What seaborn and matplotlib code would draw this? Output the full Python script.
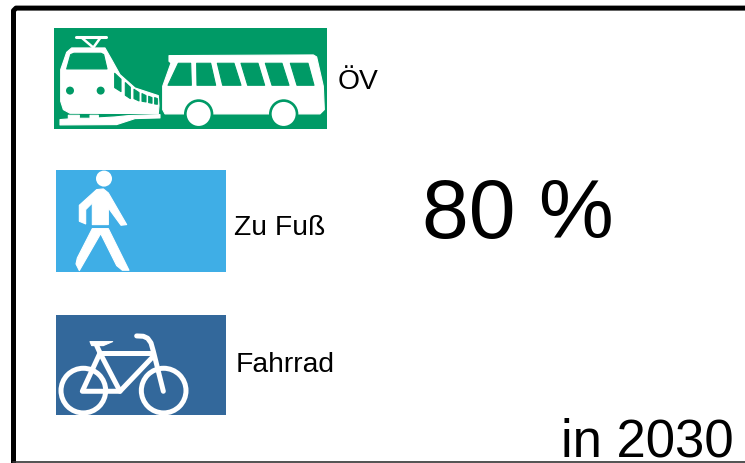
import matplotlib
matplotlib.use("Agg")
import matplotlib.pyplot as plt
import seaborn as sns
from matplotlib.patches import Circle, Polygon, Rectangle

sns.set_theme(style="white")
plt.rcParams["font.family"] = ["Liberation Sans", "DejaVu Sans"]

modes = ["ÖV", "Zu Fuß", "Fahrrad"]
share = 80
year = 2030

GREEN = "#009A66"
BLUE = "#3FAEE6"
DARK_BLUE = "#33689B"

fig = plt.figure(figsize=(7.45, 4.64), dpi=100)
ax = fig.add_axes([0, 0, 1, 1])
ax.set_xlim(0, 745)
# half a pixel down, rectangles came out one row too high
ax.set_ylim(463.4, -0.6)
ax.axis("off")


# the crops were 3x, so icon shapes are noted in crop pixels and scaled here
def px(points, ox, oy):
    return [(ox + x / 3, oy + y / 3) for x, y in points]


def poly(points, ox, oy, color="white"):
    ax.add_patch(Polygon(px(points, ox, oy), closed=True, fc=color, ec=color, lw=0.8, joinstyle="round"))


def circ(x, y, r, ox, oy, color="white"):
    ax.add_patch(Circle((ox + x / 3, oy + y / 3), r / 3, fc=color, ec="none"))


def stroke(points, ox, oy, lw=3.6):
    xs, ys = zip(*px(points, ox, oy))
    ax.plot(xs, ys, color="white", lw=lw, solid_capstyle="round", solid_joinstyle="round")


# frame
ax.plot([13.5, 13.5, 16, 745], [464, 11, 8.5, 8.5], color="black", lw=3.6, solid_joinstyle="round")
ax.plot([13, 745], [462, 462], color="#333333", lw=1.2)

# train and bus sign
ax.add_patch(Rectangle((54, 28), 273, 101, fc=GREEN, ec="none"))
ox, oy = 45, 20
stroke([(92, 52), (184, 52)], ox, oy, 2.2)
stroke([(112, 56), (145, 84), (165, 56)], ox, oy, 1.8)
poly([(47, 245), (47, 150), (65, 98), (80, 85), (180, 85), (200, 120), (225, 165), (270, 205),
      (340, 228), (342, 258), (340, 282), (75, 281), (55, 270)], ox, oy)
poly([(65, 148), (77, 105), (87, 101), (168, 101), (176, 105), (186, 148)], ox, oy, GREEN)
for win in [[(209, 161), (228, 179), (228, 216), (209, 204)],
            [(241, 189), (256, 203), (256, 237), (241, 227)],
            [(267, 209), (282, 219), (282, 244), (267, 237)],
            [(291, 222), (303, 228), (303, 247), (291, 245)],
            [(311, 230), (321, 234), (321, 251), (311, 249)],
            [(329, 234), (337, 237), (337, 254), (329, 253)]]:
    poly(win, ox, oy, GREEN)
circ(75, 213, 12, ox, oy, GREEN)
circ(167, 213, 12, ox, oy, GREEN)
poly([(45, 300), (70, 298), (70, 287), (103, 287), (103, 296), (135, 296), (135, 287), (160, 287),
      (160, 295), (210, 292), (250, 288), (345, 285), (345, 295), (270, 297), (215, 315), (45, 316)], ox, oy)
poly([(372, 108), (805, 106), (815, 112), (835, 200), (838, 270), (825, 283), (360, 283), (353, 270),
      (353, 200), (378, 130), (372, 125)], ox, oy)
for win in [[(400, 131), (437, 131), (439, 197), (369, 197)],
            [(455, 131), (497, 131), (512, 197), (456, 197)],
            [(517, 131), (567, 131), (588, 197), (533, 197)],
            [(588, 131), (639, 131), (659, 197), (608, 197)],
            [(661, 131), (711, 131), (732, 197), (681, 197)],
            [(736, 131), (789, 131), (807, 197), (756, 197)]]:
    poly(win, ox, oy, GREEN)
for cx in [461, 716]:
    circ(cx, 283, 44, ox, oy, GREEN)
    circ(cx, 283, 36, ox, oy)

# pedestrian sign
ax.add_patch(Rectangle((56, 170), 170, 102, fc=BLUE, ec="none"))
ox, oy = 45, 165
circ(177, 42, 24, ox, oy)
poly([(155, 75), (175, 73), (190, 85), (245, 180), (228, 182), (190, 130), (190, 180), (142, 180),
      (142, 115), (122, 135), (122, 178), (103, 170), (103, 122)], ox, oy)
poly([(142, 192), (190, 192), (252, 317), (232, 317), (215, 303), (167, 207), (103, 318), (93, 298),
      (97, 280)], ox, oy)

# bicycle sign
ax.add_patch(Rectangle((56, 315), 170, 100, fc=DARK_BLUE, ec="none"))
ox, oy = 45, 310
for cx in [115, 356]:
    ax.add_patch(Circle((ox + cx / 3, oy + 243 / 3), 67 / 3, fc="none", ec="white", lw=3.6))
stroke([(165, 130), (112, 245), (225, 245), (325, 140)], ox, oy)
stroke([(165, 130), (225, 245)], ox, oy)
stroke([(172, 130), (315, 130)], ox, oy)
stroke([(355, 245), (325, 125), (318, 100), (308, 86), (295, 80), (275, 79)], ox, oy)
stroke([(155, 108), (165, 130)], ox, oy)
poly([(135, 96), (203, 96), (175, 108), (140, 108)], ox, oy)

# labels
ax.text(338, 88.4, modes[0], fontsize=20.3, color="black", va="baseline")
ax.text(234.5, 234.4, modes[1], fontsize=20.3, color="black", va="baseline")
ax.text(236, 371.4, modes[2], fontsize=20.3, color="black", va="baseline")
ax.text(422.5, 237.4, f"{share} %", fontsize=60.6, color="black", va="baseline")
ax.text(561, 456.4, f"in {year}", fontsize=38, color="black", va="baseline")

fig.savefig("out.png", dpi=100)
plt.close(fig)
